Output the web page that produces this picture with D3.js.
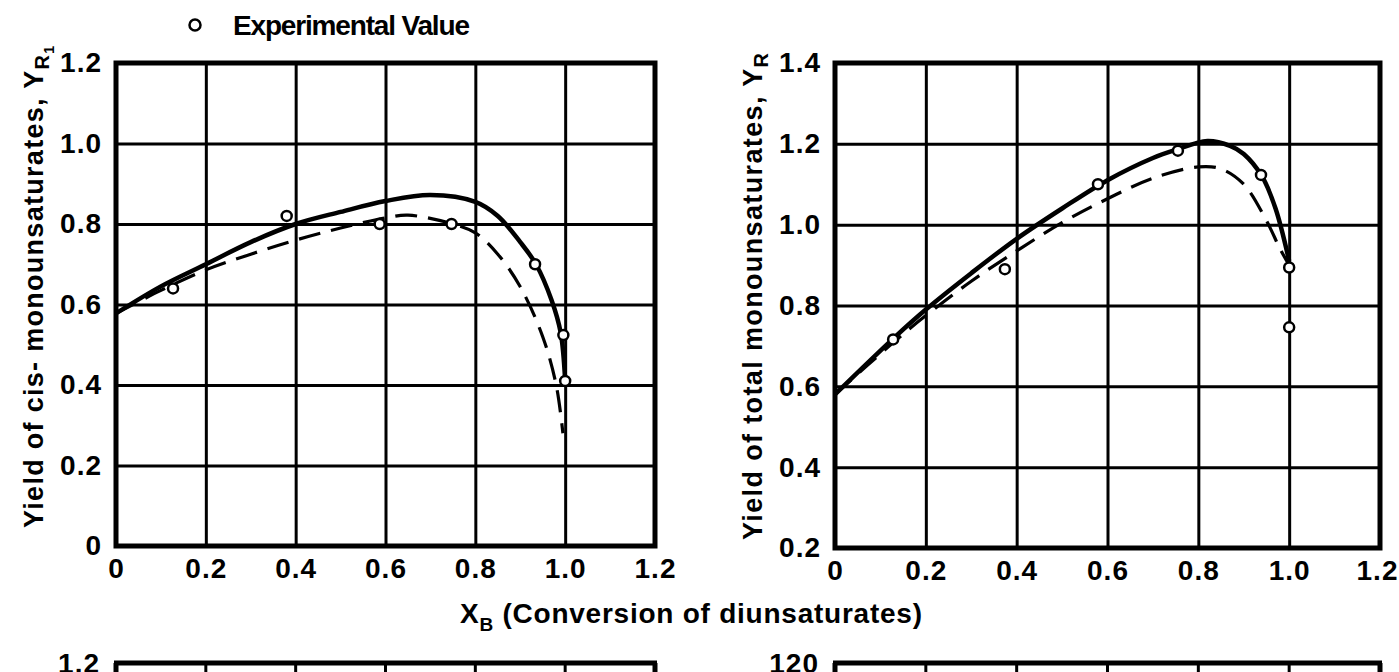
<!DOCTYPE html>
<html>
<head>
<meta charset="utf-8">
<title>Yield of monounsaturates vs conversion</title>
<script src="https://cdn.jsdelivr.net/npm/d3@7"></script>
<style>
    body { margin: 0; background: #fff; }
    svg { display: block; }
    text { font-family: 'Liberation Sans', Arial, sans-serif; font-weight: bold; fill: #000; }
    .axis .domain { display: none; }
    .axis line { stroke: #000; stroke-width: 3; }
    .axis text { font-size: 28px; letter-spacing: 1px; }
</style>
</head>
<body>
<svg></svg>
<script>
// ticks
var xTicks = [0, 0.2, 0.4, 0.6, 0.8, 1.0, 1.2],
    leftYTicks = [0, 0.2, 0.4, 0.6, 0.8, 1.0, 1.2],
    rightYTicks = [0.2, 0.4, 0.6, 0.8, 1.0, 1.2, 1.4];

// left panel: cis-monounsaturates
var cisX = [0, 0.1, 0.2, 0.3, 0.4, 0.5, 0.6, 0.7, 0.8, 0.85, 0.9, 0.935, 0.97, 0.99, 1.0],
    cisSolid = [0.578, 0.645, 0.70, 0.755, 0.80, 0.83, 0.857, 0.872, 0.855, 0.82, 0.755, 0.70, 0.61, 0.53, 0.41];
var cisDashX = [0, 0.1, 0.2, 0.3, 0.4, 0.5, 0.6, 0.65, 0.75, 0.8, 0.85, 0.9, 0.95, 0.98, 0.995],
    cisDashed = [0.578, 0.635, 0.686, 0.725, 0.76, 0.79, 0.815, 0.822, 0.80, 0.778, 0.725, 0.644, 0.52, 0.40, 0.28];
var cisExpX = [0.127, 0.38, 0.587, 0.747, 0.933, 0.996, 1.0],
    cisExpY = [0.64, 0.82, 0.80, 0.80, 0.70, 0.524, 0.41];

// right panel: total monounsaturates
var totX = [0, 0.13, 0.2, 0.3, 0.4, 0.5, 0.6, 0.7, 0.75, 0.82, 0.87, 0.9, 0.94, 0.97, 1.0],
    totSolid = [0.58, 0.72, 0.79, 0.88, 0.965, 1.04, 1.11, 1.165, 1.185, 1.207, 1.195, 1.175, 1.12, 1.04, 0.91];
var totDashX = [0, 0.13, 0.2, 0.3, 0.4, 0.5, 0.6, 0.7, 0.8, 0.85, 0.9, 0.95, 0.98, 1.0],
    totDashed = [0.58, 0.71, 0.775, 0.86, 0.935, 1.005, 1.064, 1.115, 1.143, 1.138, 1.10, 1.01, 0.94, 0.90];
var totExpX = [0.128, 0.374, 0.579, 0.755, 0.938, 1.0, 1.0],
    totExpY = [0.716, 0.89, 1.10, 1.183, 1.123, 0.894, 0.746];

var width = 1399, height = 672;

var svg = d3.select('svg')
    .attr('width', width)
    .attr('height', height);

function zip(xs, ys) {
    return xs.map(function(x, i) { return [x, ys[i]]; });
}

function fmt(d) {
    return d === 0 ? '0' : d3.format('.1f')(d);
}

function drawPanel(p) {
    var x = d3.scaleLinear().domain([0, 1.2]).range([p.left, p.right]),
        y = d3.scaleLinear().domain(p.yDomain).range([p.bottom, p.top]);

    var g = svg.append('g');

    var xAxis = g.append('g')
        .attr('class', 'axis')
        .attr('transform', 'translate(0,' + p.bottom + ')')
        .call(d3.axisBottom(x).tickValues(xTicks).tickFormat(fmt)
            .tickSize(-(p.bottom - p.top)).tickPadding(12));
    // last label sits close to the page edge on the right panel
    xAxis.selectAll('.tick:last-of-type text').attr('dx', p.lastDx || 0);

    g.append('g')
        .attr('class', 'axis')
        .attr('transform', 'translate(' + p.left + ',0)')
        .call(d3.axisLeft(y).tickValues(p.yTicks).tickFormat(fmt)
            .tickSize(-(p.right - p.left)).tickPadding(14));

    g.append('rect')
        .attr('x', p.left).attr('y', p.top)
        .attr('width', p.right - p.left).attr('height', p.bottom - p.top)
        .attr('fill', 'none').attr('stroke', '#000').attr('stroke-width', 5);

    var line = d3.line()
        .curve(d3.curveCatmullRom.alpha(0.5))
        .x(function(d) { return x(d[0]); })
        .y(function(d) { return y(d[1]); });

    g.append('path')
        .attr('d', line(p.dashed))
        .attr('fill', 'none').attr('stroke', '#000')
        .attr('stroke-width', 3.2).attr('stroke-dasharray', '22,11');

    g.append('path')
        .attr('d', line(p.solid))
        .attr('fill', 'none').attr('stroke', '#000')
        .attr('stroke-width', 4.5);

    g.selectAll('.pt')
        .data(p.points)
    .enter().append('circle')
        .attr('class', 'pt')
        .attr('cx', function(d) { return x(d[0]); })
        .attr('cy', function(d) { return y(d[1]); })
        .attr('r', 5)
        .attr('fill', '#fff').attr('stroke', '#000').attr('stroke-width', 2.5);
}

drawPanel({
    left: 116, right: 655, top: 63, bottom: 546,
    yDomain: [0, 1.2], yTicks: leftYTicks,
    solid: zip(cisX, cisSolid), dashed: zip(cisDashX, cisDashed),
    points: zip(cisExpX, cisExpY)
});

drawPanel({
    left: 835, right: 1380, top: 63, bottom: 548,
    yDomain: [0.2, 1.4], yTicks: rightYTicks,
    solid: zip(totX, totSolid), dashed: zip(totDashX, totDashed),
    points: zip(totExpX, totExpY), lastDx: -3
});

// y axis titles
var yl = svg.append('text')
    .attr('transform', 'translate(43,528) rotate(-90)')
    .attr('font-size', 27)
    .attr('textLength', 482).attr('lengthAdjust', 'spacing');
yl.append('tspan').text('Yield of cis- monounsaturates, Y');
yl.append('tspan').attr('dy', 6).attr('font-size', 20).text('R');
yl.append('tspan').attr('dy', 5).attr('font-size', 14).text('1');

var yr = svg.append('text')
    .attr('transform', 'translate(762,540) rotate(-90)')
    .attr('font-size', 27)
    .attr('textLength', 487).attr('lengthAdjust', 'spacing');
yr.append('tspan').text('Yield of total monounsaturates, Y');
yr.append('tspan').attr('dy', 6).attr('font-size', 20).text('R');

// x axis title
var xt = svg.append('text')
    .attr('x', 460).attr('y', 623)
    .attr('font-size', 28)
    .attr('textLength', 462).attr('lengthAdjust', 'spacing');
xt.append('tspan').text('X');
xt.append('tspan').attr('dy', 8).attr('font-size', 19).text('B');
xt.append('tspan').attr('dy', -8).text(' (Conversion of diunsaturates)');

// legend
svg.append('circle')
    .attr('cx', 195).attr('cy', 25).attr('r', 5.5)
    .attr('fill', '#fff').attr('stroke', '#000').attr('stroke-width', 2.5);
svg.append('text')
    .attr('x', 233).attr('y', 35)
    .attr('font-size', 28)
    .attr('textLength', 237).attr('lengthAdjust', 'spacing')
    .text('Experimental Value');

// the next row of panels, cut off at the bottom of the page
var lowerTop = 663;
[[116, 655, '1.2'], [835, 1380, '120']].forEach(function(b) {
    var bx = d3.scaleLinear().domain([0, 1.2]).range([b[0], b[1]]);
    svg.append('line')
        .attr('x1', b[0] - 2).attr('x2', b[1] + 2)
        .attr('y1', lowerTop).attr('y2', lowerTop)
        .attr('stroke', '#000').attr('stroke-width', 5);
    svg.selectAll(null)
        .data(xTicks)
    .enter().append('line')
        .attr('x1', function(d) { return bx(d); })
        .attr('x2', function(d) { return bx(d); })
        .attr('y1', lowerTop).attr('y2', height)
        .attr('stroke', '#000')
        .attr('stroke-width', function(d, i) { return (i === 0 || i === xTicks.length - 1) ? 5 : 3; });
    svg.append('text')
        .attr('x', b[0] - 16).attr('y', lowerTop + 10)
        .attr('text-anchor', 'end')
        .attr('font-size', 28).attr('letter-spacing', 1)
        .text(b[2]);
});
svg.append('text')
    .attr('transform', 'translate(48,688) rotate(-90)')
    .attr('font-size', 26)
    .text('α');
</script>
</body>
</html>
